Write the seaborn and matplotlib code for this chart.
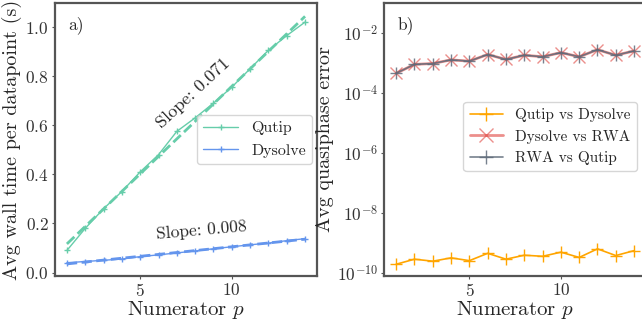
import numpy as np
import pandas as pd
import matplotlib
matplotlib.use("Agg")
import matplotlib.pyplot as plt
import seaborn as sns

# numerator p
p = np.arange(1, 15)

# a) wall time per datapoint (s)
qutip_time = [0.09, 0.18, 0.26, 0.33, 0.41, 0.48, 0.575, 0.63, 0.69, 0.755, 0.83, 0.905, 0.965, 1.02]
dysolve_time = [0.040, 0.045, 0.050, 0.055, 0.065, 0.072, 0.080, 0.088, 0.097, 0.105, 0.113, 0.120, 0.130, 0.138]

# b) quasiphase errors
qutip_vs_dysolve = [1.9e-10, 2.8e-10, 2.4e-10, 3.1e-10, 2.5e-10, 4.4e-10, 2.8e-10,
                    3.8e-10, 3.5e-10, 4.8e-10, 3.2e-10, 6.2e-10, 3.7e-10, 5.4e-10]
dysolve_vs_rwa = [4.5e-4, 8.9e-4, 9.5e-4, 1.26e-3, 1.14e-3, 1.9e-3, 1.3e-3,
                  1.8e-3, 1.6e-3, 2.2e-3, 1.6e-3, 2.75e-3, 1.8e-3, 2.5e-3]
rwa_vs_qutip = [4.5e-4, 8.9e-4, 9.5e-4, 1.26e-3, 1.14e-3, 1.9e-3, 1.3e-3,
                1.8e-3, 1.6e-3, 2.2e-3, 1.6e-3, 2.75e-3, 1.8e-3, 2.5e-3]

sns.set_style("ticks")
plt.rcParams["font.family"] = ["serif"]
plt.rcParams["font.serif"] = ["cmr10", "DejaVu Serif"]
plt.rcParams["mathtext.fontset"] = "cm"
plt.rcParams["axes.formatter.use_mathtext"] = True
plt.rcParams["axes.edgecolor"] = "#555555"
plt.rcParams["axes.linewidth"] = 1.6
plt.rcParams["xtick.color"] = "#555555"
plt.rcParams["ytick.color"] = "#555555"
plt.rcParams["xtick.labelcolor"] = "#333333"
plt.rcParams["ytick.labelcolor"] = "#333333"

fig = plt.figure(figsize=(6.42, 3.27), dpi=100)
ax1 = fig.add_axes([0.0857, 0.156, 0.408, 0.835])
ax2 = fig.add_axes([0.5986, 0.156, 0.4076, 0.835])

# ---- panel a ----
c_q = "#66cdaa"
c_d = "#6495ed"
sns.lineplot(x=p, y=qutip_time, ax=ax1, color=c_q, marker="+", markersize=5,
             markeredgecolor=c_q, markeredgewidth=1, linewidth=1, label="Qutip")
sns.lineplot(x=p, y=dysolve_time, ax=ax1, color=c_d, marker="+", markersize=5,
             markeredgecolor=c_d, markeredgewidth=1, linewidth=1, label="Dysolve")
sns.regplot(x=p, y=np.array(qutip_time), ax=ax1, scatter=False, ci=None, color=c_q,
            line_kws={"linestyle": "--", "linewidth": 2})
sns.regplot(x=p, y=np.array(dysolve_time), ax=ax1, scatter=False, ci=None, color=c_d,
            line_kws={"linestyle": "--", "linewidth": 2})

slope_q = np.polyfit(p, qutip_time, 1)[0]
slope_d = np.polyfit(p, dysolve_time, 1)[0]
ax1.text(7.9, 0.73, f"Slope: {slope_q:.3f}", rotation=43, ha="center", va="center", fontsize=13)
ax1.text(8.35, 0.17, f"Slope: {slope_d:.3f}", rotation=5, ha="center", va="center", fontsize=12.5)
ax1.text(0.05, 0.95, "a)", transform=ax1.transAxes, ha="left", va="top", fontsize=12.5)

ax1.set_xlim(0.35, 14.65)
ax1.set_ylim(-0.014, 1.098)
ax1.set_xticks([5, 10])
ax1.set_yticks([0.0, 0.2, 0.4, 0.6, 0.8, 1.0])
ax1.set_xlabel("Numerator $p$", fontsize=15, labelpad=0)
ax1.set_ylabel("Avg wall time per datapoint (s)", fontsize=14.5, labelpad=2)
ax1.tick_params(labelsize=12.5, length=2.5, pad=2)
ax1.legend(loc="center right", fontsize=11.5, frameon=True, handlelength=2.2,
           labelspacing=0.5, borderaxespad=0.3)

# ---- panel b ----
sns.lineplot(x=p, y=qutip_vs_dysolve, ax=ax2, color="#ffa500", marker="+", markersize=8,
             markeredgecolor="#ffa500", markeredgewidth=1.0, linewidth=1.2,
             label="Qutip vs Dysolve")
sns.lineplot(x=p, y=dysolve_vs_rwa, ax=ax2, color="#e0453f", marker="x", markersize=8,
             markeredgecolor="#e0453f", markeredgewidth=1.0, linewidth=2, alpha=0.6,
             label="Dysolve vs RWA")
sns.lineplot(x=p, y=rwa_vs_qutip, ax=ax2, color="#5f6b7a", marker="+", markersize=8,
             markeredgecolor="#5f6b7a", markeredgewidth=1.0, linewidth=1.2, alpha=0.85,
             label="RWA vs Qutip")
ax2.set_yscale("log")
ax2.set_xlim(0.35, 14.65)
ax2.set_ylim(7.7e-11, 1e-1)
ax2.set_xticks([5, 10])
ax2.set_yticks([1e-10, 1e-8, 1e-6, 1e-4, 1e-2])
ax2.minorticks_off()
ax2.set_xlabel("Numerator $p$", fontsize=15, labelpad=0)
ax2.set_ylabel("Avg quasiphase error", fontsize=14.5, labelpad=2)
ax2.tick_params(labelsize=12.5, length=2.5, pad=2)
ax2.text(0.05, 0.95, "b)", transform=ax2.transAxes, ha="left", va="top", fontsize=12.5)
ax2.legend(loc="center right", bbox_to_anchor=(0.995, 0.51), fontsize=11,
           frameon=True, handlelength=2.2, labelspacing=0.5, markerscale=1.25)

fig.savefig("out.png", dpi=100)
